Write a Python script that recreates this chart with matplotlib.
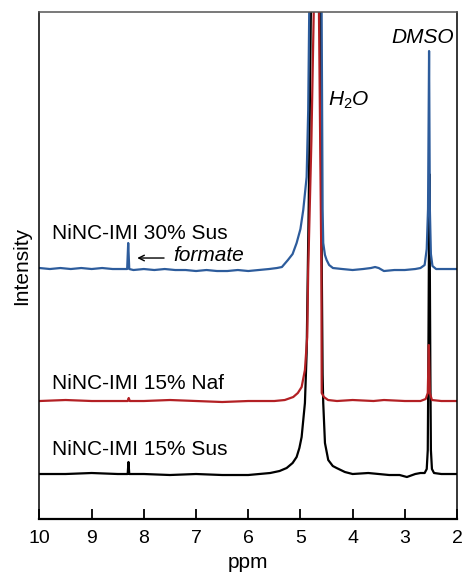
import matplotlib
matplotlib.use("Agg")
import matplotlib.pyplot as plt

plt.rcParams['font.family'] = ['Liberation Sans', 'DejaVu Sans']
plt.rcParams['mathtext.fontset'] = 'custom'
plt.rcParams['mathtext.rm'] = 'Liberation Sans'
plt.rcParams['mathtext.it'] = 'Liberation Sans:italic'

# spectra: chemical shift (ppm) and intensity above each baseline
sus30_ppm = [10.0, 9.8, 9.6, 9.4, 9.2, 9.0, 8.8, 8.6, 8.4, 8.32, 8.30, 8.28, 8.2, 8.0, 7.8, 7.6,
             7.4, 7.2, 7.0, 6.8, 6.6, 6.4, 6.2, 6.0, 5.8, 5.6, 5.45, 5.355, 5.24, 5.15, 5.073,
             5.0, 4.946, 4.881, 4.851, 4.831, 4.80, 4.72, 4.62, 4.594, 4.575, 4.563, 4.53,
             4.498, 4.45, 4.377, 4.2, 4.0, 3.8, 3.65, 3.57, 3.5, 3.4, 3.2, 3.0, 2.8, 2.7,
             2.62, 2.58, 2.555, 2.535, 2.52, 2.50, 2.47, 2.4, 2.2, 2.0]
sus30_int = [1, 0, 1, 0, 1, 0, 1, 0, 0, 0, 26, 0, -1, 0, -1, 0,
             -1, -1, -2, -1, -2, -2, -1, -2, -1, 0, 1, 2, 9, 15, 26,
             40, 59, 92, 159, 259, 500, 1200, 500, 259, 60, 26, 14,
             9, 4, 1, 0, -1, 0, 1, 2, 1, -2, -1, -1, 0, 1,
             4, 20, 60, 218, 60, 15, 3, 0, 0, 0]

naf15_ppm = [10.0, 9.5, 9.0, 8.5, 8.31, 8.29, 8.27, 8.0, 7.5, 7.0, 6.5, 6.0, 5.5, 5.3, 5.138,
             5.05, 4.977, 4.914, 4.870, 4.851, 4.79, 4.745, 4.73, 4.69, 4.66, 4.645, 4.598,
             4.592, 4.55, 4.47, 4.3, 4.0, 3.6, 3.4, 3.0, 2.7, 2.6, 2.56, 2.54, 2.52, 2.48,
             2.3, 2.0]
naf15_int = [0, 1, 0, 0, 0, 3, 0, 0, 1, 0, -1, 0, 0, 1, 4,
             8, 14, 31, 64, 131, 260, 389, 600, 1500, 600, 389, 131,
             8, 4, 1, 0, 1, 0, 1, 0, 0, 2, 8, 56, 8, 1,
             0, 0]

sus15_ppm = [10.0, 9.5, 9.0, 8.5, 8.31, 8.295, 8.28, 8.0, 7.5, 7.0, 6.5, 6.0, 5.58, 5.40, 5.264,
             5.15, 5.073, 5.02, 4.977, 4.914, 4.881, 4.84, 4.80, 4.77, 4.72, 4.64, 4.625, 4.59,
             4.575, 4.563, 4.53, 4.467, 4.38, 4.307, 4.148, 4.0, 3.7, 3.5, 3.3, 3.1, 2.96, 2.8,
             2.7, 2.62, 2.58, 2.56, 2.55, 2.53, 2.51, 2.50, 2.48, 2.44, 2.3, 2.0]
sus15_int = [0, 0, 1, 0, 0, 12, 0, 0, -1, 0, -1, -1, 1, 3, 6,
             11, 17, 26, 37, 71, 121, 274, 462, 700, 1500, 700, 462, 200,
             100, 71, 31, 14, 8, 6, 2, 0, 1, 0, -1, -1, -3, 0,
             1, 1, 5, 24, 100, 300, 100, 24, 5, 1, 0, 0]

offsets = [250, 118, 45]
labels = ['NiNC-IMI 30% Sus', 'NiNC-IMI 15% Naf', 'NiNC-IMI 15% Sus']
colors = ['#2d5c9c', '#b32024', '#000000']

fig = plt.figure(figsize=(4.64, 5.81), dpi=100)
ax = fig.add_axes([0.0851, 0.1067, 0.8998, 0.8726])

series = [(sus30_ppm, sus30_int), (naf15_ppm, naf15_int), (sus15_ppm, sus15_int)]
# black first, blue last so it sits on top
for i in [2, 1, 0]:
    x, y = series[i]
    ax.plot(x, [v + offsets[i] for v in y], color=colors[i], lw=1.6, solid_joinstyle='round')

ax.set_xlim(10, 2)
ax.set_ylim(0, 507)
ax.set_xticks([10, 9, 8, 7, 6, 5, 4, 3, 2])
ax.set_yticks([])
ax.tick_params(axis='x', direction='in', length=7, width=1.3, labelsize=14, pad=8)
for s in ['left', 'right', 'top']:
    ax.spines[s].set_linewidth(1.1)
ax.spines['bottom'].set_linewidth(1.6)
ax.spines['top'].set_color('#555555')

ax.set_xlabel('ppm', fontsize=15, labelpad=4)
ax.set_ylabel('Intensity', fontsize=15, labelpad=6)

label_y = [286, 136, 70]
for txt, ly in zip(labels, label_y):
    ax.text(9.76, ly, txt, fontsize=15, va='center', ha='left')

ax.text(7.44, 264, 'formate', fontsize=15, style='italic', va='center', ha='left')
ax.annotate('', xy=(8.18, 261), xytext=(7.56, 261),
            arrowprops=dict(arrowstyle='->', lw=1.0, color='black'))
ax.text(4.48, 419, r'$H_2O$', fontsize=15, va='center', ha='left')
ax.text(3.25, 482, 'DMSO', fontsize=15, style='italic', va='center', ha='left')

fig.savefig('out.png', dpi=100)
